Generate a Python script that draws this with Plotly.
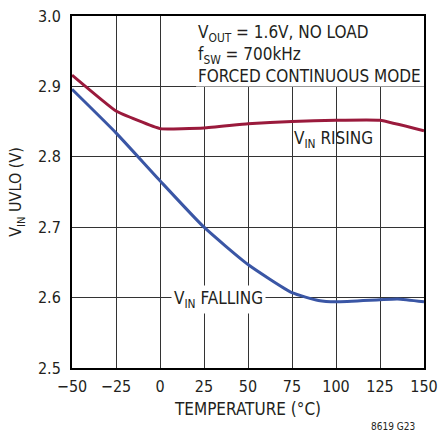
import plotly.graph_objects as go

temp = [-50, -25, 0, 25, 50, 75, 100, 125, 150]
rising = [2.916, 2.865, 2.840, 2.841, 2.847, 2.850, 2.852, 2.852, 2.837]
temp_f = [-50, -25, 0, 25, 50, 75, 90, 100, 125, 135, 150]
falling = [2.896, 2.834, 2.766, 2.700, 2.647, 2.607, 2.596, 2.594, 2.597, 2.598, 2.594]

x_ticks = [-50, -25, 0, 25, 50, 75, 100, 125, 150]
x_ticklabels = ["\u221250", "\u221225", "0", "25", "50", "75", "100", "125", "150"]
y_ticks = [2.5, 2.6, 2.7, 2.8, 2.9, 3.0]
y_ticklabels = ["2.5", "2.6", "2.7", "2.8", "2.9", "3.0"]

FONT = "DejaVu Sans Condensed, Roboto, Liberation Sans"
RED = "#9a1a3c"
BLUE = "#3a56a5"
TXT = "#231f20"

fig = go.Figure()
fig.add_trace(go.Scatter(x=temp, y=rising, mode="lines",
                         line=dict(color=RED, width=3, shape="spline", smoothing=0.3),
                         showlegend=False, hoverinfo="skip"))
fig.add_trace(go.Scatter(x=temp_f, y=falling, mode="lines",
                         line=dict(color=BLUE, width=3, shape="spline", smoothing=0.5),
                         showlegend=False, hoverinfo="skip"))

fig.add_shape(type="rect", xref="x", yref="y", x0=20.5, x1=150, y0=2.9, y1=3.0,
              fillcolor="white", line=dict(width=0), layer="between")

fig.add_annotation(x=20.5, y=2.995, xref="x", yref="y", xanchor="left", yanchor="top",
                   align="left", showarrow=False,
                   text="V<sub>OUT</sub> = 1.6V, NO LOAD<br>f<sub>SW</sub> = 700kHz<br>FORCED CONTINUOUS MODE",
                   font=dict(family=FONT, size=17, color=TXT))
fig.add_annotation(x=98.5, y=2.824, xref="x", yref="y", showarrow=False,
                   text="V<sub>IN</sub> RISING", font=dict(family=FONT, size=17, color=TXT))
fig.add_annotation(x=33.5, y=2.598, xref="x", yref="y", showarrow=False,
                   text="V<sub>IN</sub> FALLING", bgcolor="white", borderpad=2,
                   font=dict(family=FONT, size=17, color=TXT))
fig.add_annotation(x=0.98, y=-0.165, xref="paper", yref="paper", xanchor="right", yanchor="middle",
                   showarrow=False, text="8619 G23",
                   font=dict(family=FONT, size=10, color=TXT))

fig.update_xaxes(range=[-50, 150], tickvals=x_ticks, ticktext=x_ticklabels,
                 showgrid=True, gridcolor="#333", gridwidth=1,
                 showline=True, linecolor="black", linewidth=2, mirror=True,
                 ticks="", zeroline=False, automargin=False, ticklabelstandoff=3,
                 ticklabeloverflow="allow",
                 tickfont=dict(family=FONT, size=16, color=TXT),
                 title=dict(text="TEMPERATURE (\u00b0C)", font=dict(family=FONT, size=17, color=TXT), standoff=8))
fig.update_yaxes(range=[2.5, 3.0], tickvals=y_ticks, ticktext=y_ticklabels,
                 showgrid=True, gridcolor="#333", gridwidth=1,
                 showline=True, linecolor="black", linewidth=2, mirror=True,
                 ticks="", zeroline=False, automargin=False, ticklabelstandoff=6,
                 ticklabeloverflow="allow",
                 tickfont=dict(family=FONT, size=16, color=TXT),
                 title=dict(text="V<sub>IN</sub> UVLO (V)", font=dict(family=FONT, size=16, color=TXT), standoff=12))

fig.update_layout(width=438, height=434, margin=dict(l=72, r=14, t=16, b=66),
                  plot_bgcolor="white", paper_bgcolor="white")

fig.write_html("out.html", config={"displayModeBar": False},
               post_script="document.body.style.margin='0';document.body.style.overflow='hidden';")
